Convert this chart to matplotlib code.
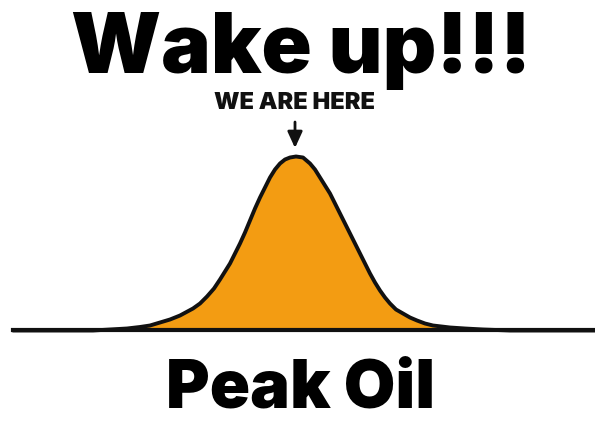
import matplotlib
matplotlib.use("Agg")
import matplotlib.pyplot as plt
import numpy as np

# curve: x position and height above the baseline (px)
curve_x = [13, 60, 93, 110, 127, 140, 150, 160, 170, 180, 193, 200, 207, 214, 220, 225, 230, 235,
           240, 245, 250, 255, 260, 265, 270, 275, 280, 285, 290, 296, 303, 310, 315, 320, 325,
           330, 335, 340, 345, 350, 355, 360, 365, 370, 375, 380, 385, 390, 396, 403, 410,
           417, 425, 433, 450, 465, 483, 510, 595]
curve_h = [0, 0, 0, 1, 2, 3.5, 5, 8, 11, 15, 22, 27, 34, 42, 51, 59, 67, 77,
           87, 98, 110, 122, 133, 143, 153, 161, 167, 171, 173, 174, 173, 167, 161, 153, 145,
           137, 127, 117, 107, 97, 87, 77, 67, 57, 48, 40, 33, 27, 21, 17, 13,
           10, 7, 5, 3, 2, 1, 0, 0]

title = "Wake up!!!"
marker_label = "WE ARE HERE"
footer = "Peak Oil"

W, H = 595, 423
baseline = 330.5
orange = "#F39C12"

fig = plt.figure(figsize=(W / 100, H / 100), dpi=100)
ax = fig.add_axes([0, 0, 1, 1])
ax.set_xlim(0, W)
ax.set_ylim(H, 0)
ax.axis("off")

x = np.array(curve_x, dtype=float)
y = baseline - np.array(curve_h, dtype=float)

ax.fill_between(x, y, baseline, color=orange, zorder=1)
ax.plot(x, y, color="#111111", lw=2.8, solid_capstyle="round", solid_joinstyle="round", zorder=2)
ax.plot([13, W], [baseline, baseline], color="#111111", lw=3, zorder=3)

font = ["Inter", "DejaVu Sans"]
ax.text(301, 73, title, ha="center", va="baseline", fontsize=60,
        fontweight="black", family=font, color="black")
ax.text(295, 109, marker_label, ha="center", va="baseline", fontsize=17,
        fontweight="black", family=font, color="#111111")
# bottom of the text box sits on the figure edge
ax.text(300.5, 422, footer, ha="center", va="bottom", fontsize=48,
        fontweight="black", family=font, color="black")

# arrow pointing at the peak
peak_x = curve_x[int(np.argmax(curve_h))] - 1
ax.annotate("", xy=(peak_x, 148), xytext=(peak_x, 122),
            arrowprops=dict(arrowstyle="-|>,head_length=0.7,head_width=0.32", color="#111111",
                            lw=2, mutation_scale=14, shrinkA=0, shrinkB=0))

fig.savefig("out.png", dpi=100, facecolor="white")
